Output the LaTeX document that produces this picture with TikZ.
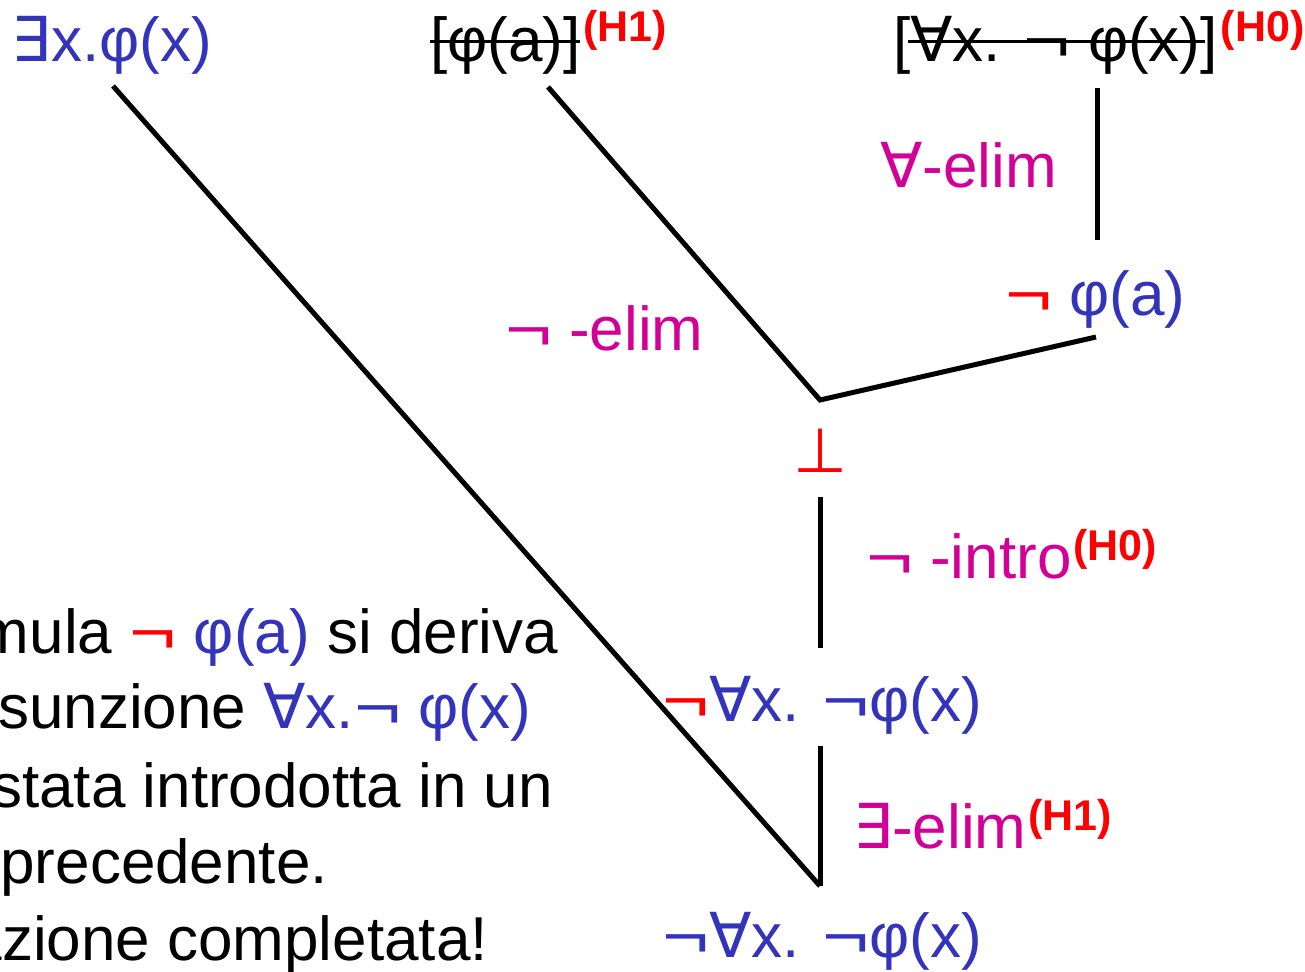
\documentclass[tikz,border=0pt]{standalone}
\usepackage{fontspec}
\usetikzlibrary{calc}
\setmainfont{Liberation Sans}
\newfontfamily\symf{DejaVu Sans}
\definecolor{fblue}{RGB}{51,51,187}
\definecolor{rmag}{RGB}{210,0,150}
\definecolor{hred}{RGB}{255,0,0}
\newcommand{\myFA}{{\symf ∀}}
\newcommand{\myEX}{{\symf ∃}}
\newcommand{\myBOT}{{\symf ⊥}}
\newcommand{\myNEG}{\scalebox{1.3}[1]{¬}}
\tikzset{
  txt/.style={inner sep=0pt, outer sep=0pt, anchor=base west, font=\fontsize{62}{74}\selectfont},
  txtr/.style={txt, anchor=base east},
  sup/.style={inner sep=0pt, outer sep=0pt, anchor=base west, text=hred, font=\fontsize{43}{47}\selectfont\bfseries},
  rule/.style={line width=5pt},
  strike/.style={line width=3pt},
}
\begin{document}
\begin{tikzpicture}[x=1pt,y=-1pt]
\useasboundingbox (0,0) rectangle (1305,971);
% formulas
\node[txt,text=fblue] (ex) at (12,62) {\myEX x.φ(x)};
\node[txt] (h1f) at (430,62) {[φ(a)]};
\node[sup] (h1s) at ($(h1f.base east)+(3,-20)$) {(H1)};
\node[txt] (h0f) at (893,62) {[\myFA x. \myNEG{} φ(x)]};
\node[sup] (h0s) at ($(h0f.base east)+(3,-20)$) {(H0)};
\draw[strike] ($(h1f.base west)+(0,-20)$) -- ($(h1f.base east)+(0,-20)$);
\draw[strike] ($(h0f.base west)+(15,-20)$) -- ($(h0f.base east)+(-13,-20)$);

\node[txt,text=rmag] (aelim) at (880,187) {\myFA-elim};
\node[txt] (nphia) at (1005,315) {\textcolor{hred}{\myNEG} \textcolor{fblue}{φ(a)}};
\node[txt,text=rmag] (nelim) at (505,350) {\myNEG{} -elim};
\node[txt,text=hred,anchor=base] (bot) at (820,472) {\myBOT};
\node[txt,text=rmag] (nintro) at (866,578) {\myNEG{} -intro};
\node[sup] (nintros) at ($(nintro.base east)+(2,-18)$) {(H0)};
\node[txt] (nall1) at (662,721) {\textcolor{hred}{\myNEG}\textcolor{fblue}{\myFA x. \myNEG φ(x)}};
\node[txt,text=rmag] (eelim) at (853,848) {\myEX-elim};
\node[sup] (eelims) at ($(eelim.base east)+(2,-18)$) {(H1)};
\node[txt,text=fblue] (nall2) at (662,957) {\myNEG\myFA x. \myNEG φ(x)};

% body text (cut off at the left edge, as in the reference)
\node[txtr] (l1) at (558,653) {La formula \textcolor{hred}{\myNEG} \textcolor{fblue}{φ(a)} si deriva};
\node[txtr] (l2) at (531,728) {dall'assunzione \textcolor{fblue}{\myFA x.\myNEG{} φ(x)}};
\node[txtr] (l3) at (553,807) {che è stata introdotta in un};
\node[txtr] (l4) at (328,883) {passo precedente.};
\node[txtr] (l5) at (488,960) {Derivazione completata!};

% connector end points
\coordinate (exE) at (113,86);
\coordinate (h1E) at (548,87);
\coordinate (j1) at (820,400);
\coordinate (naE) at (1096,337);
\coordinate (h0E) at (1097,88);
\coordinate (naT) at (1097,240);
\coordinate (botB) at (820,497);
\coordinate (n1T) at (820,648);
\coordinate (n1B) at (820,746);
\coordinate (j2) at (820,886);

\draw[rule] (exE) -- (j2);
\draw[rule] (h1E) -- (j1) -- (naE);
\draw[rule] (h0E) -- (naT);
\draw[rule] (botB) -- (n1T);
\draw[rule] (n1B) -- (j2);
\end{tikzpicture}
\end{document}
